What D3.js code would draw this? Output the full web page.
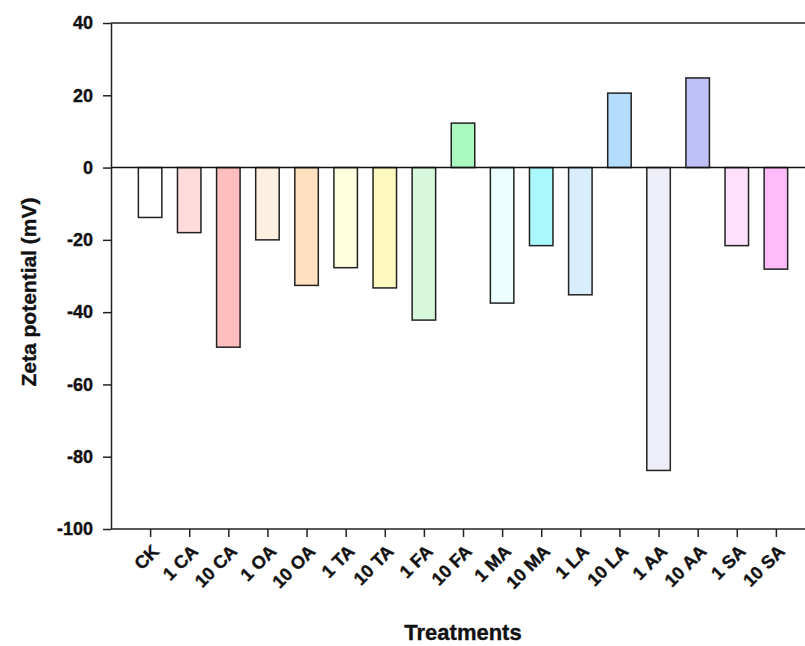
<!DOCTYPE html>
<html>
<head>
<meta charset="utf-8">
<script src="https://cdn.jsdelivr.net/npm/d3@7"></script>
<style>
  body { margin: 0; background: #fff; }
  svg { font-family: "Liberation Sans", Arial, sans-serif; }
  text { stroke: #111; stroke-width: 0.35px; }
</style>
</head>
<body>
<div id="chart"></div>
<script>
const treatments = ["CK", "1 CA", "10 CA", "1 OA", "10 OA", "1 TA", "10 TA", "1 FA", "10 FA",
  "1 MA", "10 MA", "1 LA", "10 LA", "1 AA", "10 AA", "1 SA", "10 SA"];
const zeta = [-13.8, -18.0, -49.7, -20.0, -32.6, -27.7, -33.3, -42.2, 12.3,
  -37.5, -21.6, -35.2, 20.6, -83.8, 24.8, -21.6, -28.1];
const fills = ["#ffffff", "#ffdcdc", "#ffbebe", "#fdf0e1", "#ffe0c0", "#ffffe0", "#fcf8be", "#d8f8dc", "#a8f8c0",
  "#eafefe", "#a8f8fc", "#d8eefc", "#b4dcfc", "#eeeef8", "#c0c0f8", "#ffe0fc", "#ffbcf8"];
const yTicks = [-100, -80, -60, -40, -20, 0, 20, 40];

(() => {
  const width = 805, height = 646;
  const plotLeft = 111, plotTop = 23, plotBottom = 529, plotRight = 805;

  const svg = d3.select("#chart").append("svg")
    .attr("width", width)
    .attr("height", height);

  const x = d3.scalePoint()
    .domain(treatments)
    .range([plotLeft, 815])
    .padding(1);

  const y = d3.scaleLinear()
    .domain([-100, 40])
    .range([plotBottom, plotTop]);

  const barW = 23.5;

  // bars
  svg.selectAll("rect.bar")
    .data(treatments)
    .join("rect")
    .attr("class", "bar")
    .attr("x", d => x(d) - barW / 2)
    .attr("y", (d, i) => y(Math.max(0, zeta[i])))
    .attr("width", barW)
    .attr("height", (d, i) => Math.abs(y(zeta[i]) - y(0)))
    .attr("fill", (d, i) => fills[i])
    .attr("stroke", "#222")
    .attr("stroke-width", 1.5);

  // zero line and top frame
  svg.append("line")
    .attr("x1", plotLeft).attr("x2", plotRight)
    .attr("y1", y(0)).attr("y2", y(0))
    .attr("stroke", "#111").attr("stroke-width", 1.5);

  svg.append("line")
    .attr("x1", plotLeft).attr("x2", plotRight)
    .attr("y1", plotTop).attr("y2", plotTop)
    .attr("stroke", "#222").attr("stroke-width", 1.5);

  // y axis
  const yAxis = svg.append("g")
    .attr("transform", `translate(${plotLeft},0)`)
    .call(d3.axisLeft(y).tickValues(yTicks).tickFormat(d => String(d))
      .tickSize(8).tickSizeOuter(0).tickPadding(10));
  yAxis.select(".domain").attr("stroke", "#222").attr("stroke-width", 1.5);
  yAxis.selectAll(".tick line").attr("stroke", "#222").attr("stroke-width", 1.5);
  yAxis.selectAll("text")
    .attr("font-size", 18)
    .attr("font-weight", "bold")
    .attr("fill", "#111")
    .attr("font-family", "Liberation Sans, Arial, sans-serif");

  // x axis
  const xAxis = svg.append("g")
    .attr("transform", `translate(0,${plotBottom})`)
    .call(d3.axisBottom(x).tickSize(8).tickSizeOuter(0));
  xAxis.select(".domain").attr("d", `M${plotLeft},0H${plotRight}`).attr("stroke", "#222").attr("stroke-width", 1.5);
  xAxis.selectAll(".tick line").attr("stroke", "#222").attr("stroke-width", 1.5);
  xAxis.selectAll("text")
    .attr("font-size", 18)
    .attr("font-weight", "bold")
    .attr("fill", "#111")
    .attr("font-family", "Liberation Sans, Arial, sans-serif")
    .attr("text-anchor", "end")
    .attr("x", 0)
    .attr("y", 0)
    .attr("dy", "0.35em")
    .attr("transform", "translate(5,19) rotate(-45)");

  // axis titles
  svg.append("text")
    .attr("x", 463)
    .attr("y", 640)
    .attr("text-anchor", "middle")
    .attr("font-size", 22)
    .attr("font-weight", "bold")
    .attr("fill", "#111")
    .text("Treatments");

  svg.append("text")
    .attr("transform", "translate(36,292) rotate(-90)")
    .attr("text-anchor", "middle")
    .attr("font-size", 21)
    .attr("font-weight", "bold")
    .attr("fill", "#111")
    .text("Zeta potential (mV)");
})();
</script>
</body>
</html>
